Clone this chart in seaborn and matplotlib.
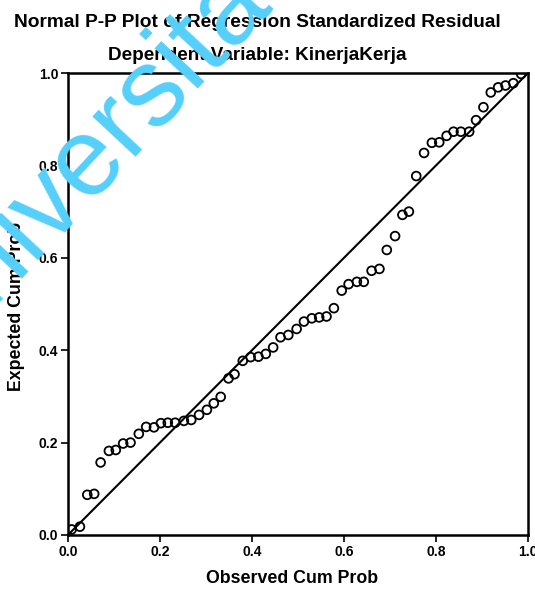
import numpy as np
import pandas as pd
import seaborn as sns
import matplotlib.pyplot as plt

# values
observed = [0.008, 0.026, 0.042, 0.057, 0.071, 0.089, 0.104, 0.120, 0.136, 0.154,
            0.170, 0.187, 0.202, 0.217, 0.233, 0.252, 0.268, 0.285, 0.302, 0.317,
            0.332, 0.349, 0.362, 0.380, 0.397, 0.414, 0.430, 0.446, 0.462, 0.479,
            0.497, 0.513, 0.530, 0.546, 0.562, 0.578, 0.595, 0.610, 0.628, 0.643,
            0.660, 0.677, 0.693, 0.711, 0.727, 0.741, 0.757, 0.774, 0.791, 0.807,
            0.823, 0.838, 0.854, 0.872, 0.887, 0.903, 0.919, 0.935, 0.951, 0.968,
            0.985]
expected = [0.012, 0.018, 0.087, 0.089, 0.157, 0.182, 0.184, 0.198, 0.200, 0.219,
            0.234, 0.233, 0.242, 0.243, 0.243, 0.247, 0.249, 0.260, 0.271, 0.285,
            0.299, 0.339, 0.348, 0.377, 0.385, 0.386, 0.392, 0.406, 0.428, 0.433,
            0.446, 0.462, 0.469, 0.471, 0.473, 0.491, 0.529, 0.543, 0.548, 0.548,
            0.572, 0.576, 0.617, 0.647, 0.693, 0.700, 0.777, 0.827, 0.849, 0.850,
            0.864, 0.873, 0.873, 0.873, 0.898, 0.926, 0.958, 0.969, 0.973, 0.978,
            0.998]
ticks = [0.0, 0.2, 0.4, 0.6, 0.8, 1.0]
tick_labels = ['0.0', '0.2', '0.4', '0.6', '0.8', '1.0']

df = pd.DataFrame({'observed': observed, 'expected': expected})

sns.set_style('white')
plt.rcParams['font.family'] = ['Liberation Sans', 'DejaVu Sans']
plt.rcParams['text.color'] = 'black'
plt.rcParams['axes.labelcolor'] = 'black'
plt.rcParams['xtick.color'] = 'black'
plt.rcParams['ytick.color'] = 'black'

fig = plt.figure(figsize=(5.35, 5.89), dpi=100)
ax = fig.add_axes([0.127, 0.0917, 0.86, 0.7843])

# reference diagonal
sns.lineplot(x=[0, 1], y=[0, 1], color='black', linewidth=1.5, ax=ax)
sns.scatterplot(data=df, x='observed', y='expected', ax=ax, s=40,
                facecolor='none', edgecolor='black', linewidth=1.3, zorder=3)

ax.set_xlim(0, 1)
ax.set_ylim(0, 1)
ax.set_xticks(ticks)
ax.set_yticks(ticks)
ax.set_xticklabels(tick_labels, fontsize=10, fontweight='bold')
ax.set_yticklabels(tick_labels, fontsize=10, fontweight='bold')
ax.tick_params(direction='out', length=5, width=1.2, color='black', pad=2,
               bottom=True, left=True)
for sp in ax.spines.values():
    sp.set_color('black')
    sp.set_linewidth(1.8)

ax.set_xlabel('Observed Cum Prob', fontsize=12.8, fontweight='bold')
ax.set_ylabel('Expected Cum Prob', fontsize=12.8, fontweight='bold')
ax.xaxis.set_label_coords(0.487, -0.076)
ax.yaxis.set_label_coords(-0.093, 0.495)

fig.text(0.482, 0.962, 'Normal P-P Plot of Regression Standardized Residual',
         ha='center', va='center', fontsize=13.8, fontweight='bold')
fig.text(0.48, 0.906, 'Dependent Variable: KinerjaKerja',
         ha='center', va='center', fontsize=13.6, fontweight='bold')

# cyan watermark from the scan
fig.text(122 / 535, 1 - 162 / 589, 'Universitas', color='#55d0fa',
         fontsize=80, ha='center', va='baseline', rotation=47,
         rotation_mode='anchor', zorder=10)

fig.savefig('out.png', dpi=100)
